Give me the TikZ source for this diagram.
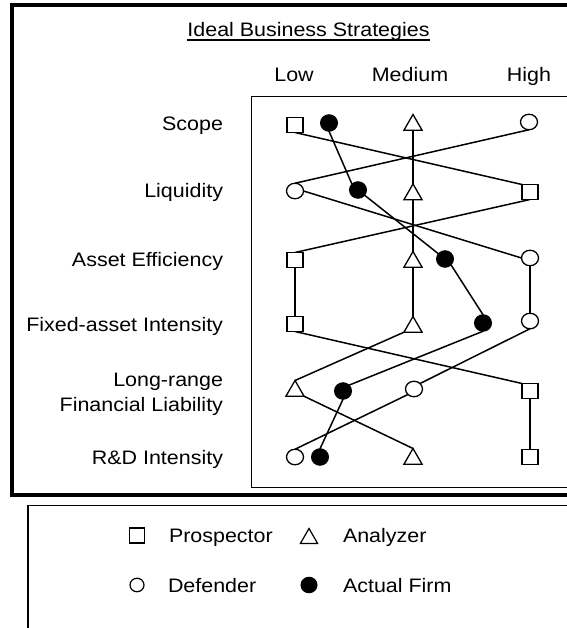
\documentclass[tikz,border=0pt]{standalone}
\usepackage{fontspec}
\setmainfont{Liberation Sans}[FakeStretch=1.1]
\usetikzlibrary{shapes.geometric,backgrounds}
\begin{document}
\begin{tikzpicture}[x=1pt,y=-1pt,
  every node/.style={inner sep=0pt, outer sep=0pt},
  txt/.style={font=\fontsize{19.5}{25}\selectfont},
  psq/.style={draw, fill=white, line width=1.3pt, minimum width=16pt, minimum height=15pt},
  atri/.style={draw, fill=white, regular polygon, regular polygon sides=3, minimum size=21pt, line width=1.3pt},
  dcirc/.style={draw, fill=white, ellipse, minimum width=17pt, minimum height=15.5pt, line width=1.3pt},
  afill/.style={draw, fill=black, ellipse, minimum width=17pt, minimum height=16.5pt, line width=1pt},
  conn/.style={line width=1.5pt},
  frame/.style={line width=4pt},
  box/.style={line width=1.5pt}
]
\useasboundingbox (0,0) rectangle (566,628);

% frames
\draw[frame] (12,5) rectangle (620,495);
\draw[box] (251.5,96.5) rectangle (620,487.5);
\draw[box] (28,505.5) rectangle (620,700);

% title and headers
\node[txt, anchor=base] (title) at (308.5,37) {Ideal Business Strategies};
\draw[line width=1.2pt] ([yshift=-3pt]title.base west) -- ([yshift=-3pt]title.base east);
\node[txt, anchor=base] (hLow) at (294,81.5) {Low};
\node[txt, anchor=base] (hMed) at (410,81.5) {Medium};
\node[txt, anchor=base] (hHigh) at (529,81.5) {High};

% row labels
\node[txt, anchor=base east] (lScope) at (223,131) {Scope};
\node[txt, anchor=base east] (lLiq) at (223,198) {Liquidity};
\node[txt, anchor=base east] (lAE) at (223,266) {Asset Efficiency};
\node[txt, anchor=base east] (lFA) at (223,331) {Fixed-asset Intensity};
\node[txt, anchor=base east] (lLRa) at (223,386) {Long-range};
\node[txt, anchor=base east] (lLRb) at (223,411) {Financial Liability};
\node[txt, anchor=base east] (lRD) at (223,464) {R\&D Intensity};

% Prospector
\node[psq] (pS) at (295,125) {};
\node[psq] (pL) at (530,192) {};
\node[psq] (pA) at (295,260) {};
\node[psq] (pF) at (295,324) {};
\node[psq] (pR) at (530,391) {};
\node[psq] (pD) at (530,457) {};
% Analyzer
\node[atri] (nS) at (413,125) {};
\node[atri] (nL) at (413,194.5) {};
\node[atri] (nA) at (413,262) {};
\node[atri] (nF) at (413,327) {};
\node[atri] (nR) at (295,391) {};
\node[atri] (nD) at (413,459) {};
% Defender
\node[dcirc] (dS) at (529,122) {};
\node[dcirc] (dL) at (295,191) {};
\node[dcirc] (dA) at (530,258) {};
\node[dcirc] (dF) at (530,321) {};
\node[dcirc] (dR) at (414,389) {};
\node[dcirc] (dD) at (295,457) {};
% Actual firm
\node[afill] (aS) at (329,123) {};
\node[afill] (aL) at (358,190) {};
\node[afill] (aA) at (445,259) {};
\node[afill] (aF) at (483,323) {};
\node[afill] (aR) at (343,391) {};
\node[afill] (aD) at (320,457) {};

\begin{pgfonlayer}{background}
  % Prospector
  \draw[conn] (pS.south) -- (pL.north west);
  \draw[conn] (pL.south) -- (pA.north);
  \draw[conn] (pA.south) -- (pF.north);
  \draw[conn] (pF.south) -- (pR.north west);
  \draw[conn] (pR.south) -- (pD.north);
  % Analyzer
  \draw[conn] (nS.south) -- (nL.corner 1);
  \draw[conn] (nL.south) -- (nA.corner 1);
  \draw[conn] (nA.south) -- (nF.corner 1);
  \draw[conn] (nF.corner 2) -- (nR.corner 1);
  \draw[conn] (nR.corner 3) -- (nD.corner 1);
  % Defender
  \draw[conn] (dS.south) -- (dL.north);
  \draw[conn] (dL.east) -- (dA.west);
  \draw[conn] (dA.south) -- (dF.north);
  \draw[conn] (dF.south) -- (dR.north east);
  \draw[conn] (dR.south west) -- (dD.north);
  % Actual firm
  \draw[conn] (aS.south) -- (aL.north west);
  \draw[conn] (aL) -- (aA);
  \draw[conn] (aA.south east) -- (aF.north);
  \draw[conn] (aF.south) -- (aR.north east);
  \draw[conn] (aR.south) -- (aD.north);
\end{pgfonlayer}

% legend
\node[draw, fill=white, line width=1.2pt, minimum width=15pt, minimum height=15pt] (lgP) at (137,535.5) {};
\node[txt, anchor=base west] (lgPt) at (169,542) {Prospector};
\node[draw, fill=white, regular polygon, regular polygon sides=3, minimum size=20pt, line width=1.2pt] (lgA) at (309,538.5) {};
\node[txt, anchor=base west] (lgAt) at (343,542) {Analyzer};
\node[draw, fill=white, ellipse, minimum width=14pt, minimum height=13.5pt, line width=1.2pt] (lgD) at (137,585) {};
\node[txt, anchor=base west] (lgDt) at (168,592) {Defender};
\node[draw, fill=black, ellipse, minimum width=16pt, minimum height=15.5pt, line width=1pt] (lgF) at (309,585) {};
\node[txt, anchor=base west] (lgFt) at (343,592) {Actual Firm};
\end{tikzpicture}
\end{document}
